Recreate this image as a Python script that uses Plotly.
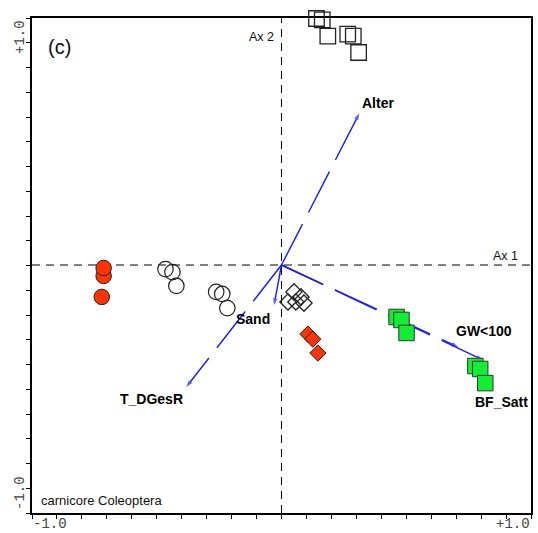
import numpy as np
import plotly.graph_objects as go

# ---- data (ordination scores) ----
open_sq_x = [0.151, 0.176, 0.200, 0.286, 0.310, 0.333]
open_sq_y = [1.081, 1.075, 1.004, 1.013, 1.004, 0.932]

red_circ_x = [-0.776, -0.768, -0.768]
red_circ_y = [-0.140, -0.048, -0.013]

open_circ_x = [-0.501, -0.471, -0.454, -0.282, -0.256, -0.234]
open_circ_y = [-0.018, -0.031, -0.092, -0.118, -0.127, -0.189]

open_dia_x = [0.054, 0.084, 0.028, 0.062, 0.097]
open_dia_y = [-0.118, -0.140, -0.162, -0.162, -0.167]

red_dia_x = [0.114, 0.135, 0.157]
red_dia_y = [-0.303, -0.325, -0.386]

green_sq_x = [0.497, 0.518, 0.540, 0.837, 0.858, 0.880]
green_sq_y = [-0.228, -0.241, -0.298, -0.443, -0.456, -0.518]

env_names = ["Alter", "GW<100", "BF_Satt", "T_DGesR", "Sand"]
env_x = [0.336, 0.763, 0.871, -0.411, -0.032]
env_y = [0.665, -0.360, -0.417, -0.535, -0.175]
label_x = [0.415, 0.873, 0.951, -0.560, -0.123]
label_y = [0.711, -0.290, -0.601, -0.588, -0.237]

x_range = [-1.0774, 1.0774]
y_range = [-1.0877, 1.0833]

BLUE = "#1a1aff"
EDGE = "#333333"

fig = go.Figure()

# environmental arrows
for name, ex, ey in zip(env_names, env_x, env_y):
    fig.add_trace(go.Scatter(
        x=[0, ex], y=[0, ey], mode="lines+markers",
        line=dict(color=BLUE, width=1.4, dash="46px,13px"),
        marker=dict(symbol=["circle", "arrow"], size=[0, 7], angleref="previous",
                    color=BLUE, line=dict(width=0)),
        hoverinfo="skip", showlegend=False, cliponaxis=False))

def pts(x, y, symbol, size, fill, lw=1.2, lc=EDGE):
    fig.add_trace(go.Scatter(
        x=x, y=y, mode="markers", cliponaxis=False, showlegend=False,
        marker=dict(symbol=symbol, size=size, color=fill,
                    line=dict(color=lc, width=lw))))

pts(open_sq_x, open_sq_y, "square-open", 15.5, "#222222", 1.3, "#222222")
pts(red_circ_x, red_circ_y, "circle", 15.5, "#ff3300", 1.0, "#222222")
pts(open_circ_x, open_circ_y, "circle-open", 15.5, "#222222", 1.2, "#222222")
pts(open_dia_x, open_dia_y, "diamond-open", 12.5, "#222222", 1.3, "#222222")
pts(red_dia_x, red_dia_y, "diamond", 12.5, "#ff3300", 1.0, "#222222")
pts(green_sq_x, green_sq_y, "square", 15.5, "#11ee33", 1.0, "#333333")

# dashed axes through origin
for shp in [dict(x0=x_range[0], x1=x_range[1], y0=0, y1=0),
            dict(x0=0, x1=0, y0=y_range[0], y1=y_range[1])]:
    fig.add_shape(type="line", xref="x", yref="y", layer="below",
                  line=dict(color="black", width=1, dash="8px,6px"), **shp)

ann = []
for name, lx, ly in zip(env_names, label_x, label_y):
    ann.append(dict(x=lx, y=ly, text=name, showarrow=False,
                    font=dict(family="Liberation Sans, Arial", size=14, color="#000000", weight="bold")))

txt_font = dict(family="Liberation Sans, Arial", size=12.5, color="#111111")
ann.append(dict(x=-0.088, y=1.0, text="Ax 2", showarrow=False, font=txt_font))
ann.append(dict(x=0.968, y=0.039, text="Ax 1", showarrow=False, font=txt_font))
ann.append(dict(x=-0.957, y=0.956, text="(c)", showarrow=False,
                font=dict(family="Liberation Sans, Arial", size=20, color="#111111")))
ann.append(dict(xref="paper", yref="paper", x=0, y=0, xanchor="left", yanchor="middle",
                xshift=7, yshift=13, text="carnicore Coleoptera", showarrow=False,
                font=dict(family="Liberation Sans, Arial", size=13, color="#111111")))

mono = dict(family="Liberation Mono, Courier New, monospace", size=14, color="#444444")
for v, t in [(-1.0, "-1.0"), (1.0, "+1.0")]:
    ann.append(dict(x=v, xref="x", yref="paper", y=0, yanchor="middle", yshift=-11,
                    text=t, showarrow=False, font=mono))
    ann.append(dict(y=v, yref="y", xref="paper", x=0, xanchor="center", xshift=-12,
                    text=t, textangle=-90, showarrow=False, font=mono))

xt = np.linspace(x_range[0], x_range[1], 21)
yt = np.linspace(y_range[0], y_range[1], 21)

fig.update_layout(
    width=538, height=533,
    margin=dict(l=32, r=5, t=18, b=20),
    paper_bgcolor="white", plot_bgcolor="white",
    annotations=ann,
    xaxis=dict(range=x_range, showgrid=False, zeroline=False, showline=True, mirror=True,
               linecolor="black", linewidth=1.5, ticks="outside", ticklen=4, tickcolor="black",
               tickvals=xt, showticklabels=False),
    yaxis=dict(range=y_range, showgrid=False, zeroline=False, showline=True, mirror=True,
               linecolor="black", linewidth=1.5, ticks="outside", ticklen=4, tickcolor="black",
               tickvals=yt, showticklabels=False),
)

fig.write_html("out.html")
